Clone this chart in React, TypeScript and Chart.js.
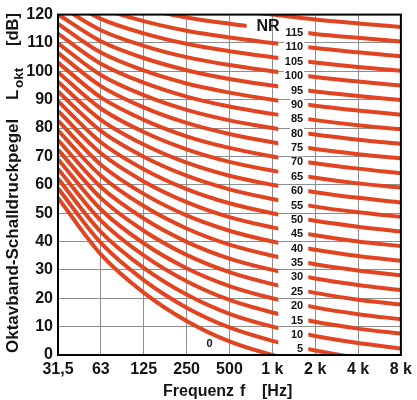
import React, { useEffect, useRef } from 'react';
import { Chart, registerables } from 'chart.js';

Chart.register(...registerables);

// Octave band centre frequencies (tick labels)
const bandLabels = ['31,5', '63', '125', '250', '500', '1 k', '2 k', '4 k', '8 k'];

// NR levels of the curves
const nrLevels = [0, 5, 10, 15, 20, 25, 30, 35, 40, 45, 50, 55, 60, 65, 70, 75, 80, 85, 90, 95, 100, 105, 110, 115, 120];

// Octave-band levels [dB] for each NR curve (31,5 Hz ... 8 kHz)
const nr0 = [55.4, 35.5, 22.0, 12.0, 4.8, 0, -3.5, -6.1, -8.0];
const nr5 = [58.8, 39.5, 26.4, 16.7, 9.7, 5, 1.6, -1.0, -2.9];
const nr10 = [62.2, 43.4, 30.7, 21.3, 14.5, 10, 6.7, 4.2, 2.3];
const nr15 = [65.6, 47.4, 35.1, 26.0, 19.4, 15, 11.7, 9.3, 7.5];
const nr20 = [69.0, 51.3, 39.4, 30.6, 24.3, 20, 16.8, 14.4, 12.6];
const nr25 = [72.4, 55.3, 43.8, 35.3, 29.2, 25, 21.9, 19.5, 17.8];
const nr30 = [75.8, 59.2, 48.1, 39.9, 34.0, 30, 27.0, 24.7, 22.9];
const nr35 = [79.2, 63.2, 52.5, 44.6, 38.9, 35, 32.0, 29.8, 28.1];
const nr40 = [82.6, 67.1, 56.8, 49.2, 43.8, 40, 37.1, 34.9, 33.2];
const nr45 = [86.0, 71.1, 61.2, 53.9, 48.6, 45, 42.2, 40.0, 38.4];
const nr50 = [89.5, 75.0, 65.5, 58.5, 53.5, 50, 47.3, 45.2, 43.5];
const nr55 = [92.9, 79.0, 69.9, 63.2, 58.4, 55, 52.3, 50.3, 48.7];
const nr60 = [96.3, 82.9, 74.2, 67.8, 63.2, 60, 57.4, 55.4, 53.8];
const nr65 = [99.7, 86.9, 78.6, 72.5, 68.1, 65, 62.5, 60.5, 59.0];
const nr70 = [103.1, 90.8, 82.9, 77.1, 73.0, 70, 67.6, 65.7, 64.1];
const nr75 = [106.5, 94.8, 87.3, 81.8, 77.9, 75, 72.6, 70.8, 69.3];
const nr80 = [109.9, 98.7, 91.6, 86.4, 82.7, 80, 77.7, 75.9, 74.4];
const nr85 = [113.3, 102.7, 96.0, 91.1, 87.6, 85, 82.8, 81.0, 79.6];
const nr90 = [116.7, 106.6, 100.3, 95.7, 92.5, 90, 87.9, 86.2, 84.7];
const nr95 = [120.1, 110.6, 104.7, 100.4, 97.3, 95, 92.9, 91.3, 89.9];
const nr100 = [123.5, 114.5, 109.0, 105.0, 102.2, 100, 98.0, 96.4, 95.0];
const nr105 = [126.9, 118.5, 113.4, 109.7, 107.1, 105, 103.1, 101.5, 100.2];
const nr110 = [130.3, 122.4, 117.7, 114.3, 111.9, 110, 108.2, 106.7, 105.3];
const nr115 = [133.7, 126.4, 122.1, 119.0, 116.8, 115, 113.2, 111.8, 110.5];
const nr120 = [137.1, 130.3, 126.4, 123.6, 121.7, 120, 118.3, 116.9, 115.6];

const nrCurves = [nr0, nr5, nr10, nr15, nr20, nr25, nr30, nr35, nr40, nr45, nr50, nr55, nr60,
  nr65, nr70, nr75, nr80, nr85, nr90, nr95, nr100, nr105, nr110, nr115, nr120];

const FONT = '"Liberation Sans", Arial, Helvetica, sans-serif';
const CURVE_COLOR = '#E04420';
const GRID_COLOR = '#8e8e8e';
const TEXT_COLOR = '#141414';

// gap (in octave-index units) where curves are interrupted for their labels
const GAP_FROM = 5.14;
const GAP_FROM_115 = 4.4;
const GAP_TO = 5.84;
const LABEL_RIGHT = 5.72;

const gapPlugin = {
  id: 'nrGap',
  beforeDatasetDraw(chart: any, args: any) {
    const ds = chart.data.datasets[args.index];
    if (ds.gapFrom == null) return;
    const xs = chart.scales.x;
    const x0 = xs.getPixelForValue(ds.gapFrom);
    const x1 = xs.getPixelForValue(ds.gapTo);
    const ctx = chart.ctx;
    ctx.save();
    ctx.beginPath();
    ctx.rect(0, 0, chart.width, chart.height);
    ctx.rect(x0, 0, x1 - x0, chart.height);
    ctx.clip('evenodd');
  },
  afterDatasetDraw(chart: any, args: any) {
    const ds = chart.data.datasets[args.index];
    if (ds.gapFrom == null) return;
    chart.ctx.restore();
  },
  afterDatasetsDraw(chart: any) {
    const ctx = chart.ctx;
    const xs = chart.scales.x;
    const ys = chart.scales.y;
    const area = chart.chartArea;

    // curve labels
    ctx.save();
    ctx.font = `bold 11px ${FONT}`;
    ctx.textAlign = 'right';
    ctx.textBaseline = 'middle';
    const xr = xs.getPixelForValue(LABEL_RIGHT);
    nrLevels.forEach((lv, i) => {
      if (lv === 0 || lv === 120) return;
      const y = ys.getPixelForValue(nrCurves[i][6]) - 1.5;
      const txt = String(lv);
      const w = ctx.measureText(txt).width;
      ctx.fillStyle = '#ffffff';
      ctx.fillRect(xr - w - 1, y - 5, w + 2, 10);
      ctx.fillStyle = TEXT_COLOR;
      ctx.fillText(txt, xr, y + 0.5);
    });
    // "0" label
    ctx.textAlign = 'center';
    ctx.fillText('0', xs.getPixelForValue(3.535), ys.getPixelForValue(3.8));
    // "NR" label
    ctx.font = `bold 16px ${FONT}`;
    ctx.fillText('NR', xs.getPixelForValue(4.9), ys.getPixelForValue(115.6));
    ctx.restore();

    // frame
    ctx.save();
    ctx.strokeStyle = '#000';
    ctx.lineWidth = 2;
    ctx.strokeRect(area.left, area.top, area.right - area.left, area.bottom - area.top);
    ctx.restore();
  },
  afterDraw(chart: any) {
    const ctx = chart.ctx;
    ctx.save();
    ctx.fillStyle = TEXT_COLOR;
    ctx.textAlign = 'left';
    ctx.textBaseline = 'alphabetic';
    // x axis title
    ctx.font = `bold 16px ${FONT}`;
    ctx.fillText('Frequenz', 163, 396);
    ctx.fillText('f', 240, 396);
    ctx.fillText('[Hz]', 262, 396);
    // y axis title (rotated)
    const vtext = (txt: string, x: number, y: number, size: number) => {
      ctx.save();
      ctx.font = `bold ${size}px ${FONT}`;
      ctx.translate(x, y);
      ctx.rotate(-Math.PI / 2);
      ctx.fillText(txt, 0, 0);
      ctx.restore();
    };
    vtext('Oktavband-Schalldruckpegel', 18, 353, 17);
    vtext('L', 18, 100, 17);
    vtext('okt', 22.5, 88, 13.5);
    vtext('[dB]', 18, 46, 16.5);
    ctx.restore();
  },
};

export default function App() {
  const canvasRef = useRef<HTMLCanvasElement | null>(null);

  useEffect(() => {
    if (!canvasRef.current) return;
    const datasets = nrCurves.map((vals, i) => {
      const lv = nrLevels[i];
      const hasGap = lv !== 0 && lv !== 120;
      return {
        label: 'NR ' + lv,
        data: vals.map((v, k) => ({ x: k, y: v })),
        borderColor: CURVE_COLOR,
        backgroundColor: CURVE_COLOR,
        borderWidth: 4,
        pointRadius: 0,
        pointHoverRadius: 0,
        cubicInterpolationMode: 'monotone',
        fill: false,
        clip: 0,
        gapFrom: hasGap ? (lv === 115 ? GAP_FROM_115 : GAP_FROM) : null,
        gapTo: hasGap ? GAP_TO : null,
      };
    });

    const chart = new Chart(canvasRef.current, {
      type: 'line',
      data: { datasets } as any,
      options: {
        animation: false,
        responsive: false,
        maintainAspectRatio: false,
        devicePixelRatio: 1,
        layout: { padding: { left: 0, right: 15, top: 11, bottom: 0 } },
        plugins: {
          legend: { display: false },
          tooltip: { enabled: false },
          title: { display: false },
        },
        events: [],
        scales: {
          x: {
            type: 'linear',
            position: 'bottom',
            min: 0,
            max: 8,
            afterFit: (s: any) => { s.height = 45; },
            afterBuildTicks: (s: any) => {
              s.ticks = bandLabels.map((_, i) => ({ value: i }));
            },
            ticks: {
              autoSkip: false,
              maxRotation: 0,
              padding: 5,
              color: TEXT_COLOR,
              font: { family: FONT, size: 16, weight: 'bold' },
              callback: (v: any) => bandLabels[Math.round(Number(v))] ?? '',
            },
            grid: { color: GRID_COLOR, lineWidth: 1, drawTicks: false },
            border: { display: false },
          },
          y: {
            type: 'linear',
            min: 0,
            max: 120,
            afterFit: (s: any) => { s.width = 58; },
            ticks: {
              stepSize: 10,
              padding: 5,
              color: TEXT_COLOR,
              font: { family: FONT, size: 16, weight: 'bold' },
            },
            grid: { color: GRID_COLOR, lineWidth: 1, drawTicks: false },
            border: { display: false },
          },
        },
      } as any,
      plugins: [gapPlugin],
    });
    return () => chart.destroy();
  }, []);

  return (
    <div style={{ position: 'fixed', left: 0, top: 0, width: 417, height: 400, background: '#fff' }}>
      <canvas ref={canvasRef} width={417} height={400} style={{ display: 'block' }} />
    </div>
  );
}
